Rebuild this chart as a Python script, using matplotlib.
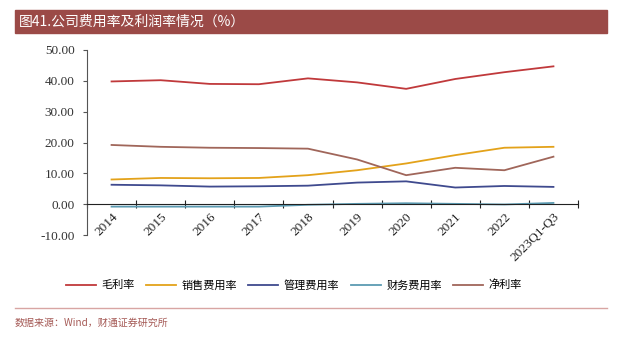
import matplotlib
matplotlib.use("Agg")
import matplotlib.pyplot as plt
from matplotlib.patches import Rectangle
from matplotlib.lines import Line2D

plt.rcParams['font.family'] = ['Noto Sans CJK SC', 'DejaVu Sans']

years = ["2014", "2015", "2016", "2017", "2018", "2019", "2020", "2021", "2022", "2023Q1-Q3"]
gross_margin = [39.8, 40.2, 39.0, 38.9, 40.8, 39.5, 37.4, 40.6, 42.8, 44.7]
sales_exp = [8.0, 8.5, 8.4, 8.5, 9.4, 11.0, 13.2, 15.9, 18.3, 18.6]
admin_exp = [6.3, 6.1, 5.7, 5.8, 6.0, 7.0, 7.4, 5.4, 5.9, 5.6]
fin_exp = [-0.8, -0.8, -0.8, -0.8, -0.2, 0.1, 0.3, 0.1, -0.1, 0.4]
net_margin = [19.2, 18.6, 18.3, 18.2, 18.0, 14.5, 9.4, 11.8, 11.0, 15.4]

series = [
    ("毛利率", gross_margin, "#C0393B"),
    ("销售费用率", sales_exp, "#E3A21A"),
    ("管理费用率", admin_exp, "#3F4A8E"),
    ("财务费用率", fin_exp, "#5C9BB2"),
    ("净利率", net_margin, "#A0665A"),
]

fig = plt.figure(figsize=(6.32, 3.39), dpi=100)

# title band
fig.patches.append(Rectangle((15 / 632, 1 - 33 / 339), 592 / 632, 23 / 339,
                             transform=fig.transFigure, color="#9B4A47", zorder=0))
fig.text(19 / 632, 1 - 21.5 / 339, "图41.公司费用率及利润率情况（%）", color="white",
         fontsize=10, va="center", ha="left")

ax = fig.add_axes([87 / 632, 1 - 235 / 339, 491 / 632, 185 / 339])
x = list(range(len(years)))
for name, vals, col in series:
    ax.plot(x, vals, color=col, lw=1.3, label=name)

ax.set_xlim(-0.5, 9.5)
ax.set_ylim(-10, 50)
ax.set_yticks([-10, 0, 10, 20, 30, 40, 50])
ax.set_yticklabels([f"{v:.2f}" for v in [-10, 0, 10, 20, 30, 40, 50]],
                   fontfamily="Liberation Serif", fontsize=9.5, color="#333333")

ax.spines["top"].set_visible(False)
ax.spines["right"].set_visible(False)
ax.spines["bottom"].set_position(("data", 0))
ax.spines["bottom"].set_color("#222222")
ax.spines["left"].set_color("#555555")

ax.set_xticks([i - 0.5 for i in range(len(years) + 1)])
ax.set_xticklabels([])
ax.tick_params(axis="x", which="major", direction="inout", length=6, color="#222222")
ax.set_xticks(x, minor=True)
ax.set_xticklabels(years, minor=True, rotation=45, ha="right", rotation_mode="anchor",
                   fontfamily="Liberation Serif", fontsize=9.5, color="#222222")
ax.tick_params(axis="x", which="minor", length=0, pad=5)
ax.tick_params(axis="y", length=3, color="#555555", pad=6)

handles = [Line2D([], [], color=c, lw=1.3) for _, _, c in series]
fig.legend(handles, [n for n, _, _ in series], loc="center", ncol=5,
           bbox_to_anchor=(0.465, 1 - 285 / 339), frameon=False, fontsize=8,
           handlelength=2.7, columnspacing=1.0, handletextpad=0.5)

fig.add_artist(Line2D([15 / 632, 607 / 632], [1 - 308 / 339, 1 - 308 / 339],
                      transform=fig.transFigure, color="#D8A5A3", lw=1))
fig.text(15 / 632, 1 - 323 / 339, "数据来源：Wind，财通证券研究所", color="#A55A56",
         fontsize=7.2, va="center", ha="left")

fig.savefig("out.png", dpi=100)
